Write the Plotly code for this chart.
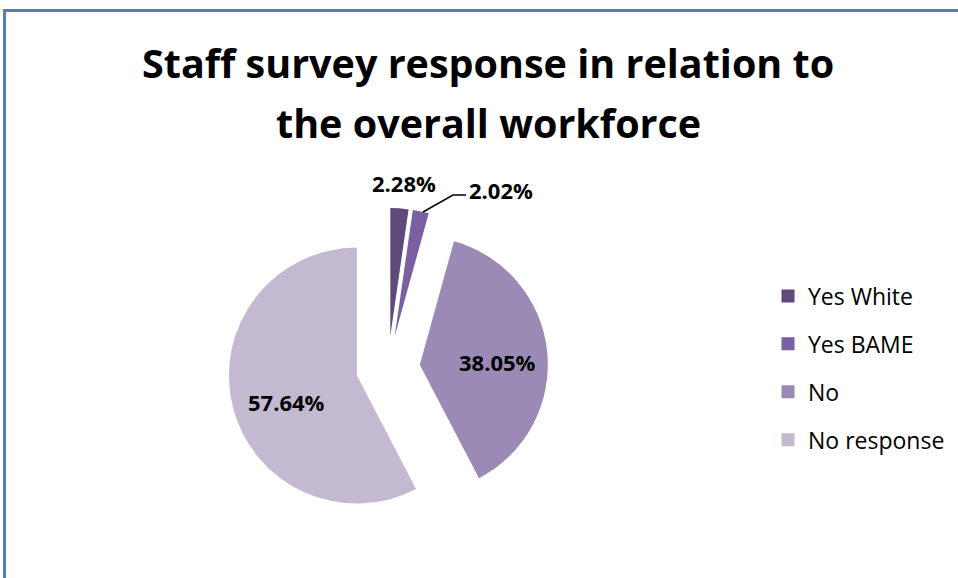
import plotly.graph_objects as go

# Survey response shares (percent of the overall workforce)
categories = ["Yes White", "Yes BAME", "No", "No response"]
shares = [2.28, 2.02, 38.05, 57.64]
colors = ["#604A7B", "#7A60A0", "#9B8AB6", "#C3BAD2"]
title_lines = ["Staff survey response in relation to", "the overall workforce"]

W, H = 958, 578
FONT = "Open Sans"


def px(x, y):
    """Convert pixel position (from top-left) to paper coordinates."""
    return x / W, 1 - y / H


fig = go.Figure()

# Exploded pie, starting at 12 o'clock and running clockwise
pie_left, pie_top, pie_size = 228, 208, 320
fig.add_trace(go.Pie(
    labels=categories,
    values=shares,
    sort=False,
    direction="clockwise",
    rotation=0,
    pull=[0.25] * len(shares),
    marker=dict(colors=colors, line=dict(width=0)),
    textinfo="none",
    hoverinfo="label+percent",
    showlegend=False,
    domain=dict(x=[pie_left / W, (pie_left + pie_size) / W],
                y=[1 - (pie_top + pie_size) / H, 1 - pie_top / H]),
))

# Legend entries (square swatches), one group each so they can be spaced out
for name, col in zip(categories, colors):
    fig.add_trace(go.Scatter(
        x=[None], y=[None], mode="markers", name=name, legendgroup=name,
        marker=dict(symbol="square", size=13, color=col),
    ))

# Value labels placed next to / inside their slices
label_pos = [(404, 183), (501, 190), (498, 362), (286, 402)]
annotations = []
for val, (lx, ly) in zip(shares, label_pos):
    ax_, ay_ = px(lx, ly)
    annotations.append(dict(
        x=ax_, y=ay_, xref="paper", yref="paper", showarrow=False,
        text=f"<b>{val:.2f}%</b>", xanchor="center", yanchor="middle",
        font=dict(family=FONT, size=22, color="#000000"),
    ))

# Two-line chart title
for line, ty in zip(title_lines, [63, 123]):
    tx_, ty_ = px(488, ty)
    annotations.append(dict(
        x=tx_, y=ty_, xref="paper", yref="paper", showarrow=False,
        text=f"<b>{line}</b>", xanchor="center", yanchor="middle",
        font=dict(family=FONT, size=39.5, color="#000000"),
    ))

# Leader line from the small "Yes BAME" slice to its label
p0, p1, p2 = px(423, 212), px(453, 195), px(466, 195)
shapes = [
    dict(type="path", xref="paper", yref="paper",
         path=f"M {p0[0]},{p0[1]} L {p1[0]},{p1[1]} L {p2[0]},{p2[1]}",
         line=dict(color="#000000", width=1.5)),
    # chart frame (left and top edges visible)
    dict(type="rect", xref="paper", yref="paper",
         x0=4.5 / W, x1=1.05, y0=-0.05, y1=1 - 10.5 / H,
         line=dict(color="#4F81BD", width=3), fillcolor="rgba(0,0,0,0)"),
]

lx_, ly_ = px(768, 368)
fig.update_layout(
    width=W, height=H,
    margin=dict(l=0, r=0, t=0, b=0),
    paper_bgcolor="white", plot_bgcolor="white",
    font=dict(family=FONT, size=23, color="#000000"),
    xaxis=dict(visible=False), yaxis=dict(visible=False),
    legend=dict(x=lx_, y=ly_, xanchor="left", yanchor="middle",
                tracegroupgap=15, traceorder="grouped",
                font=dict(family=FONT, size=23, color="#000000"),
                bgcolor="rgba(0,0,0,0)"),
    annotations=annotations,
    shapes=shapes,
)

fig.write_html("out.html")
